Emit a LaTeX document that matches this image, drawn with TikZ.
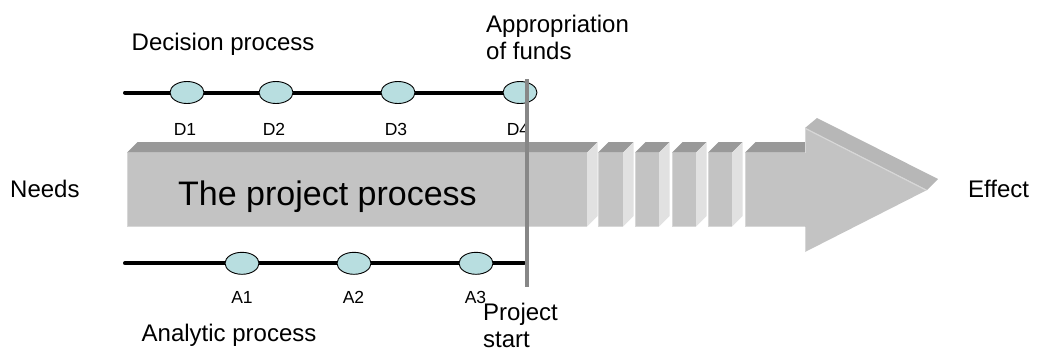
\documentclass[tikz,border=0pt]{standalone}
\usepackage{fontspec}
\setmainfont{Liberation Sans}
\usetikzlibrary{shapes.geometric,backgrounds}
\definecolor{frontc}{RGB}{195,195,195}
\definecolor{topc}{RGB}{153,153,153}
\definecolor{sidec}{RGB}{225,225,225}
\definecolor{headtopc}{RGB}{183,183,183}
\definecolor{edgec}{RGB}{215,215,215}
\definecolor{milestonec}{RGB}{184,222,224}
\definecolor{plinec}{RGB}{135,135,135}
\begin{document}
\begin{tikzpicture}[x=1pt,y=-1pt,
  ms/.style={ellipse,draw=black,line width=0.9pt,fill=milestonec,minimum width=34pt,minimum height=22pt,inner sep=0pt},
  mlabel/.style={font=\fontsize{17.5}{20}\selectfont,anchor=base,inner sep=0pt},
  lbl/.style={font=\fontsize{24}{27}\selectfont,anchor=base west,inner sep=0pt,align=left},
  track/.style={line width=4pt,line cap=round},
  topface/.style={fill=topc},
  sideface/.style={fill=sidec},
  frontface/.style={fill=frontc},
  edgeline/.style={draw=edgec,line width=1.5pt},
]
\useasboundingbox (0,0) rectangle (1037,354);

% ---- the big arrow (3D blocks) ----
\foreach \a/\b in {127/587,598/623,635/659,672/696,708/732}{
  \fill[topface] (\a,152.7) -- (\a+10.5,142) -- (\b+10.5,142) -- (\b,152.7) -- cycle;
  \fill[sideface] (\b,152.7) -- (\b+10.5,142) -- (\b+10.5,216) -- (\b,226.7) -- cycle;
  \fill[frontface] (\a,152.7) rectangle (\b,226.7);
  \draw[edgeline] (\a,226.7) -- (\b,226.7);
  \draw[edgec,line width=1pt] (\a+0.5,152.7) -- (\a+0.5,226.7);
}
% last block and head
\fill[topface] (745,152.7) -- (755.5,142) -- (805,142) -- (805,152.7) -- cycle;
\fill[frontface] (745,152.7) rectangle (806,226.7);
\draw[edgeline] (745,226.7) -- (805,226.7);
\draw[edgec,line width=1pt] (745.5,152.7) -- (745.5,226.7);
\fill[headtopc] (805,128) -- (817,118) -- (938,179) -- (927,190) -- cycle;
\fill[frontface] (805,128) -- (927,190) -- (805,252) -- cycle;
\draw[edgec,line width=1.2pt] (805.5,128.5) -- (926,190);
\draw[edgec,line width=1pt] (805.5,128) -- (805.5,152.7) (805.5,226.7) -- (805.5,252);

\node[font=\fontsize{34}{40}\selectfont,anchor=base west,inner sep=0pt] (proj) at (178,205) {The project process};

% ---- texts ----
\node[lbl] (needs) at (10,197) {Needs};
\node[lbl] (effect) at (968,197) {Effect};
\node[lbl] (dec) at (131.5,50.7) {Decision process};
\node[lbl] (ana) at (141.5,341.7) {Analytic process};
\node[lbl] (approp) at (486,59) {Appropriation\\of funds};
\node[lbl] (pstart) at (483,347) {Project\\start};

% ---- decision milestones ----
\coordinate (ds) at (125,92.5);
\node[ms] (D1) at (187,92.5) {};
\node[ms] (D2) at (276,92.5) {};
\node[ms] (D3) at (398,92.5) {};
\node[ms] (D4) at (520,92.5) {};
\node[mlabel] (l1) at (185,135) {D1};
\node[mlabel] (l2) at (274,135) {D2};
\node[mlabel] (l3) at (396,135) {D3};
\node[mlabel] (l4) at (518,135) {D4};

% ---- analytic milestones ----
\coordinate (as) at (125,263.3);
\coordinate (ae) at (524,263.3);
\node[ms] (A1) at (242,263.3) {};
\node[ms] (A2) at (354,263.3) {};
\node[ms] (A3) at (476,263.3) {};
\node[mlabel] (m1) at (242,303) {A1};
\node[mlabel] (m2) at (353.5,303) {A2};
\node[mlabel] (m3) at (475.5,303) {A3};

\begin{pgfonlayer}{background}
  \draw[track] (ds) -- (D1.center) -- (D2.center) -- (D3.center) -- (D4.center);
  \draw[track] (as) -- (A1.center) -- (A2.center) -- (A3.center) -- (ae);
\end{pgfonlayer}

% ---- project start line ----
\coordinate (pt) at (527,79);
\coordinate (pb) at (527,287);
\draw[plinec,line width=3.5pt] (pt) -- (pb);
\end{tikzpicture}
\end{document}
